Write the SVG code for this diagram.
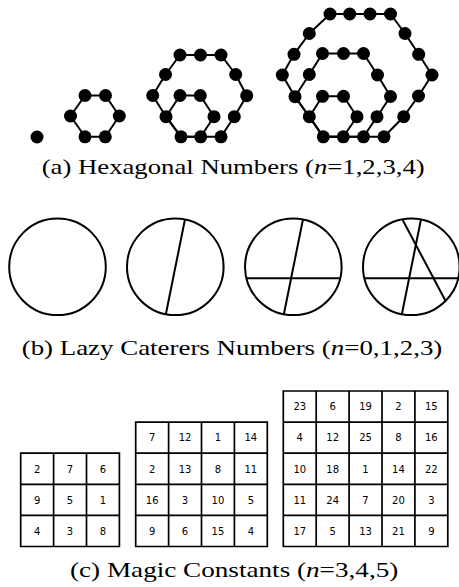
<svg xmlns="http://www.w3.org/2000/svg" width="459" height="587" viewBox="0 0 459 587">
<style>
.hex{fill:none;stroke:#000;stroke-width:2;stroke-linejoin:round}
.dot{fill:#000}
.circ{fill:none;stroke:#000;stroke-width:2}
.chord{stroke:#000;stroke-width:2;fill:none}
.grid{fill:none;stroke:#000;stroke-width:1.7}
.num{font-family:"DejaVu Sans",sans-serif;font-size:10px;text-anchor:middle;fill:#000}
.cap{font-family:"Liberation Serif","Times New Roman",serif;font-size:22px;fill:#000}
.it{font-style:italic}
</style>
<rect width="459" height="587" fill="#fff"/>
<defs>
<circle id="d" r="6.5" class="dot"/>
</defs>

<g id="hex-n1">
<use href="#d" x="37" y="137"/>
</g>

<g id="hex-n2">
<polygon class="hex" points="85,95.5 105.5,95.5 119.3,116 105.3,136.8 85,136.8 70.5,116"/>
<use href="#d" x="85" y="95.5"/><use href="#d" x="105.5" y="95.5"/><use href="#d" x="119.3" y="116"/>
<use href="#d" x="105.3" y="136.8"/><use href="#d" x="85" y="136.8"/><use href="#d" x="70.5" y="116"/>
</g>

<g id="hex-n3">
<polygon class="hex" points="180,55 200.5,55 221,55 235.7,74.5 246.7,95.7 234.3,116.7 221,136.8 200.7,136.8 181,136.8 166,116.7 152.7,95.5 165.5,74.5"/>
<polygon class="hex" points="180,95.5 200.3,95.5 214,116.7 200.7,136.8 181,136.8 166,116.7"/>
<use href="#d" x="180" y="55"/><use href="#d" x="200.5" y="55"/><use href="#d" x="221" y="55"/>
<use href="#d" x="235.7" y="74.5"/><use href="#d" x="246.7" y="95.7"/><use href="#d" x="234.3" y="116.7"/>
<use href="#d" x="221" y="136.8"/><use href="#d" x="200.7" y="136.8"/><use href="#d" x="181" y="136.8"/>
<use href="#d" x="166" y="116.7"/><use href="#d" x="152.7" y="95.5"/><use href="#d" x="165.5" y="74.5"/>
<use href="#d" x="180" y="95.5"/><use href="#d" x="200.3" y="95.5"/><use href="#d" x="214" y="116.7"/>
</g>

<g id="hex-n4">
<polygon class="hex" points="330,14 349.7,14 370,14 390.5,14 405,33.5 418.7,54.3 432,75 418.5,96 403.7,116.7 384,136.8 363.5,136.8 343.3,136.8 323.3,136.8 309.3,116.7 295,96.7 282.3,75 294,54.3 309.3,33.5"/>
<polygon class="hex" points="322.5,53.5 343.5,53.5 363.5,53.5 377.5,75 390.5,96.5 377,116.7 363.5,136.8 343.3,136.8 323.3,136.8 309.3,116.7 295,96.7 309.3,74.5"/>
<polygon class="hex" points="322.5,96.3 343.5,96.3 357,116.7 343.3,136.8 323.3,136.8 309.3,116.7"/>
<use href="#d" x="330" y="14"/><use href="#d" x="349.7" y="14"/><use href="#d" x="370" y="14"/><use href="#d" x="390.5" y="14"/>
<use href="#d" x="405" y="33.5"/><use href="#d" x="418.7" y="54.3"/><use href="#d" x="432" y="75"/>
<use href="#d" x="418.5" y="96"/><use href="#d" x="403.7" y="116.7"/><use href="#d" x="384" y="136.8"/>
<use href="#d" x="363.5" y="136.8"/><use href="#d" x="343.3" y="136.8"/><use href="#d" x="323.3" y="136.8"/>
<use href="#d" x="309.3" y="116.7"/><use href="#d" x="295" y="96.7"/><use href="#d" x="282.3" y="75"/>
<use href="#d" x="294" y="54.3"/><use href="#d" x="309.3" y="33.5"/>
<use href="#d" x="322.5" y="53.5"/><use href="#d" x="343.5" y="53.5"/><use href="#d" x="363.5" y="53.5"/>
<use href="#d" x="377.5" y="75"/><use href="#d" x="390.5" y="96.5"/><use href="#d" x="377" y="116.7"/>
<use href="#d" x="309.3" y="74.5"/>
<use href="#d" x="322.5" y="96.3"/><use href="#d" x="343.5" y="96.3"/><use href="#d" x="357" y="116.7"/>
</g>

<text class="cap" x="41.7" y="174" textLength="383" lengthAdjust="spacingAndGlyphs">(a) Hexagonal Numbers (<tspan class="it">n</tspan>=1,2,3,4)</text>

<g id="cut-n0">
<circle class="circ" cx="57.5" cy="266.8" r="48.3"/>
</g>
<g id="cut-n1">
<circle class="circ" cx="175.3" cy="266.8" r="48.3"/>
<line class="chord" x1="185" y1="219.3" x2="165.7" y2="315"/>
</g>
<g id="cut-n2">
<circle class="circ" cx="293.3" cy="266.8" r="48.3"/>
<line class="chord" x1="303" y1="219.3" x2="283.7" y2="315"/>
<line class="chord" x1="246.4" y1="278.3" x2="340.2" y2="278.3"/>
</g>
<g id="cut-n3">
<circle class="circ" cx="411.3" cy="266.8" r="48.3"/>
<line class="chord" x1="421" y1="219.3" x2="401.7" y2="315"/>
<line class="chord" x1="364.4" y1="278.3" x2="458.2" y2="278.3"/>
<line class="chord" x1="402.3" y1="219.3" x2="445.5" y2="300.8"/>
</g>

<text class="cap" x="21.7" y="355" textLength="420.6" lengthAdjust="spacingAndGlyphs">(b) Lazy Caterers Numbers (<tspan class="it">n</tspan>=0,1,2,3)</text>

<g id="magic-3">
<path class="grid" d="M20.7,453.2H119.4V546.5H20.7Z M53.6,453.2V546.5 M86.5,453.2V546.5 M20.7,484.3H119.4 M20.7,515.4H119.4"/>
<g class="num">
<text x="37.15" y="472.5">2</text><text x="70.05" y="472.5">7</text><text x="102.95" y="472.5">6</text>
<text x="37.15" y="503.6">9</text><text x="70.05" y="503.6">5</text><text x="102.95" y="503.6">1</text>
<text x="37.15" y="534.7">4</text><text x="70.05" y="534.7">3</text><text x="102.95" y="534.7">8</text>
</g>
</g>

<g id="magic-4">
<path class="grid" d="M135.7,422.1H267.3V546.5H135.7Z M168.6,422.1V546.5 M201.5,422.1V546.5 M234.4,422.1V546.5 M135.7,453.2H267.3 M135.7,484.3H267.3 M135.7,515.4H267.3"/>
<g class="num">
<text x="152.15" y="441.4">7</text><text x="185.05" y="441.4">12</text><text x="217.95" y="441.4">1</text><text x="250.85" y="441.4">14</text>
<text x="152.15" y="472.5">2</text><text x="185.05" y="472.5">13</text><text x="217.95" y="472.5">8</text><text x="250.85" y="472.5">11</text>
<text x="152.15" y="503.6">16</text><text x="185.05" y="503.6">3</text><text x="217.95" y="503.6">10</text><text x="250.85" y="503.6">5</text>
<text x="152.15" y="534.7">9</text><text x="185.05" y="534.7">6</text><text x="217.95" y="534.7">15</text><text x="250.85" y="534.7">4</text>
</g>
</g>

<g id="magic-5">
<path class="grid" d="M283.3,391H447.8V546.5H283.3Z M316.2,391V546.5 M349.1,391V546.5 M382,391V546.5 M414.9,391V546.5 M283.3,422.1H447.8 M283.3,453.2H447.8 M283.3,484.3H447.8 M283.3,515.4H447.8"/>
<g class="num">
<text x="299.75" y="410.3">23</text><text x="332.65" y="410.3">6</text><text x="365.55" y="410.3">19</text><text x="398.45" y="410.3">2</text><text x="431.35" y="410.3">15</text>
<text x="299.75" y="441.4">4</text><text x="332.65" y="441.4">12</text><text x="365.55" y="441.4">25</text><text x="398.45" y="441.4">8</text><text x="431.35" y="441.4">16</text>
<text x="299.75" y="472.5">10</text><text x="332.65" y="472.5">18</text><text x="365.55" y="472.5">1</text><text x="398.45" y="472.5">14</text><text x="431.35" y="472.5">22</text>
<text x="299.75" y="503.6">11</text><text x="332.65" y="503.6">24</text><text x="365.55" y="503.6">7</text><text x="398.45" y="503.6">20</text><text x="431.35" y="503.6">3</text>
<text x="299.75" y="534.7">17</text><text x="332.65" y="534.7">5</text><text x="365.55" y="534.7">13</text><text x="398.45" y="534.7">21</text><text x="431.35" y="534.7">9</text>
</g>
</g>

<text class="cap" x="70" y="577" textLength="328.3" lengthAdjust="spacingAndGlyphs">(c) Magic Constants (<tspan class="it">n</tspan>=3,4,5)</text>
</svg>
